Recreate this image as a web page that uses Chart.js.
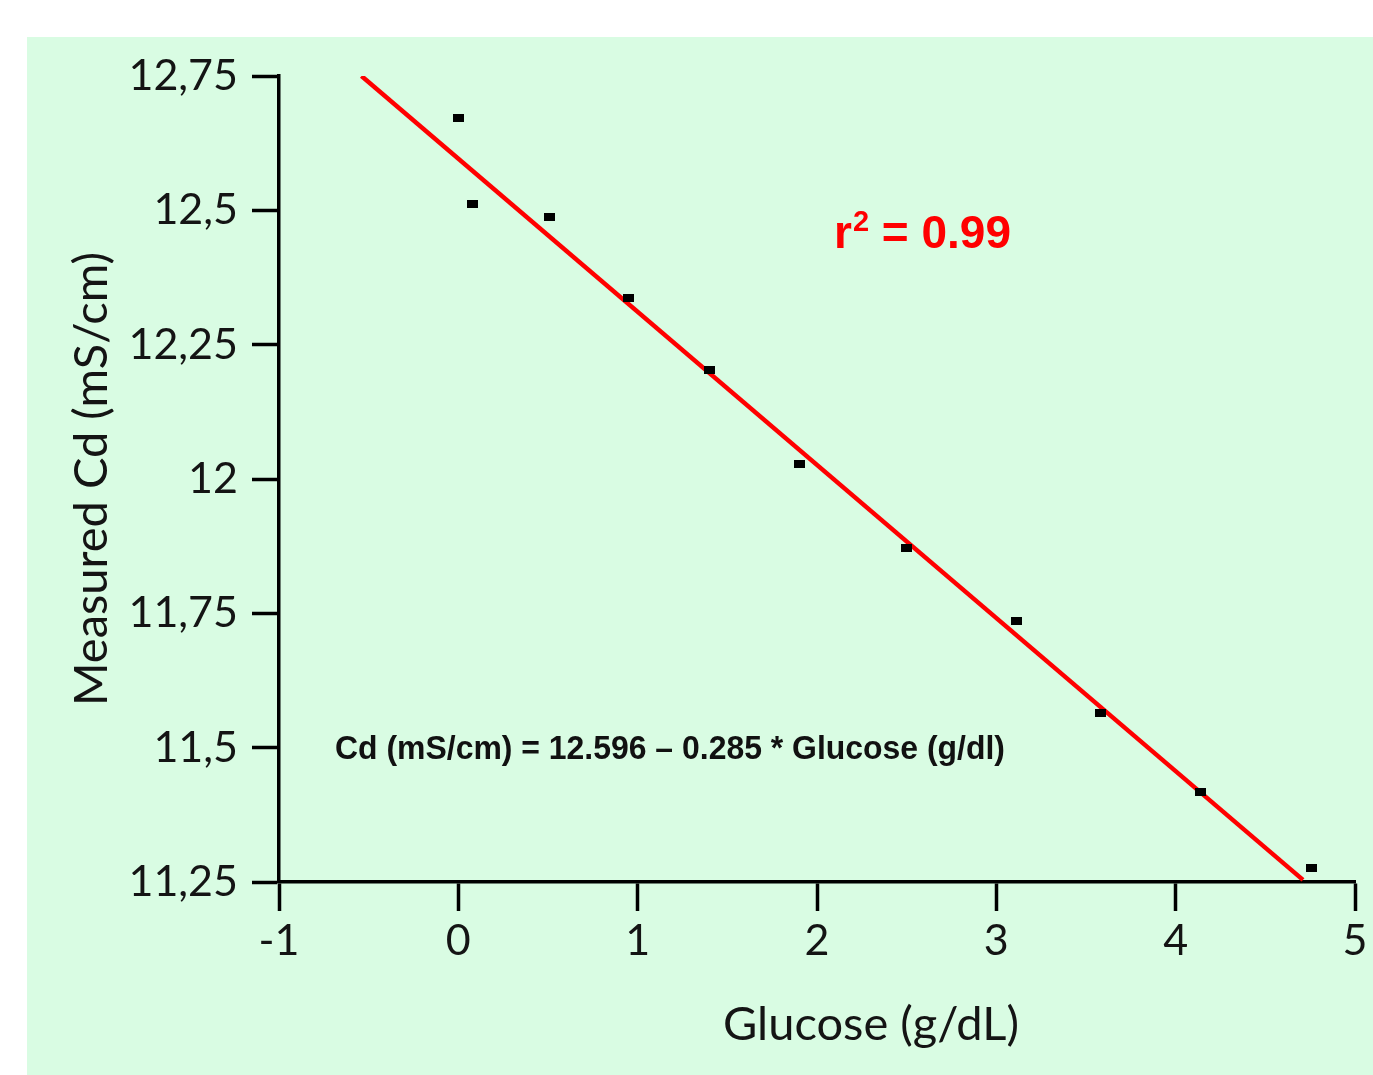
<!DOCTYPE html>
<html>
<head>
<meta charset="utf-8">
<script src="https://cdn.jsdelivr.net/npm/chart.js@4.4.1/dist/chart.umd.min.js"></script>
<style>
  html, body { margin: 0; padding: 0; background: #ffffff; }
  #wrap { position: absolute; left: 0; top: 0; width: 1373px; height: 1075px; }
</style>
</head>
<body>
<div id="wrap"><canvas id="chart" width="1373" height="1075"></canvas></div>
<script>
// ─────────────────────────────────────────────
// DATA
// ─────────────────────────────────────────────
const glucose  = [0.00, 0.08, 0.51, 0.95, 1.40, 1.90, 2.50, 3.11, 3.58, 4.14, 4.76];
const measured = [12.672, 12.512, 12.488, 12.337, 12.203, 12.028, 11.872, 11.736, 11.564, 11.417, 11.276];

// regression line end points
const fitX = [-0.54, 4.71];
const fitY = [12.75, 11.254];

const xTicks = [-1, 0, 1, 2, 3, 4, 5];
const yTicks = [11.25, 11.5, 11.75, 12, 12.25, 12.5, 12.75];
const yTickLabels = ['11,25', '11,5', '11,75', '12', '12,25', '12,5', '12,75'];

const xTitle = 'Glucose (g/dL)';
const yTitle = 'Measured Cd (mS/cm)';
const r2Text = '0.99';
const eqText = 'Cd (mS/cm) = 12.596 \u2013 0.285 * Glucose (g/dl)';

// ─────────────────────────────────────────────
// STYLE
// ─────────────────────────────────────────────
const BG = '#d9fce3';
const AXIS_FONT = 'Lato, "Open Sans", sans-serif';
const INK = '#141414';

// small filled rectangle used as marker (slightly wider than tall)
const marker = document.createElement('canvas');
marker.width = 11;
marker.height = 8;
(() => {
  const m = marker.getContext('2d');
  m.fillStyle = '#000000';
  m.fillRect(0, 0, 11, 8);
})();

// background panel + text annotations
const decor = {
  id: 'decor',
  beforeDraw(chart) {
    const c = chart.ctx;
    c.save();
    c.fillStyle = BG;
    c.fillRect(27, 37, chart.width - 27, chart.height - 37);
    c.restore();
  },
  afterDraw(chart) {
    const c = chart.ctx;
    c.save();
    // r² label
    c.fillStyle = '#ff0000';
    c.textBaseline = 'alphabetic';
    c.font = 'bold 46px "Liberation Sans", Arial, sans-serif';
    let x = 834, y = 248;
    c.fillText('r', x, y);
    x += c.measureText('r').width + 1;
    c.font = 'bold 29px "Liberation Sans", Arial, sans-serif';
    c.fillText('2', x, y - 17);
    x += c.measureText('2').width;
    c.font = 'bold 46px "Liberation Sans", Arial, sans-serif';
    c.fillText(' = ' + r2Text, x, y);

    // equation (condensed bold)
    c.fillStyle = '#111111';
    c.font = 'bold 34px "Liberation Sans", Arial, sans-serif';
    const w = c.measureText(eqText).width;
    c.translate(335, 759);
    c.scale(670 / w, 1);
    c.fillText(eqText, 0, 0);
    c.restore();

    // x title
    c.save();
    c.fillStyle = INK;
    c.font = '47px ' + AXIS_FONT;
    c.textAlign = 'center';
    c.fillText(xTitle, 871, 1040);
    c.restore();
  }
};

const ctx = document.getElementById('chart');
new Chart(ctx, {
  type: 'scatter',
  data: {
    datasets: [
      {
        label: 'fit',
        type: 'line',
        data: fitX.map((v, i) => ({ x: v, y: fitY[i] })),
        borderColor: '#ff0000',
        borderWidth: 4.5,
        pointRadius: 0,
        fill: false,
        order: 2,
      },
      {
        label: 'measured',
        data: glucose.map((v, i) => ({ x: v, y: measured[i] })),
        pointStyle: marker,
        pointRadius: 6,
        backgroundColor: '#000000',
        borderColor: '#000000',
        borderWidth: 0,
        order: 1,
      }
    ]
  },
  options: {
    responsive: false,
    animation: false,
    layout: { padding: { top: 76, right: 18, left: 0, bottom: 0 } },
    plugins: {
      legend: { display: false },
      tooltip: { enabled: false },
    },
    scales: {
      x: {
        type: 'linear',
        min: -1, max: 5,
        afterBuildTicks: (s) => { s.ticks = xTicks.map(v => ({ value: v })); },
        afterFit: (s) => { s.height = 1075 - 882; },
        border: { display: true, color: '#000000', width: 3.5 },
        grid: { drawOnChartArea: false, drawTicks: true, tickLength: 29, tickWidth: 3.5, tickColor: '#000000' },
        ticks: { color: INK, font: { family: AXIS_FONT, size: 43 }, padding: 4, maxRotation: 0 },
      },
      y: {
        min: 11.25, max: 12.75,
        afterBuildTicks: (s) => { s.ticks = yTicks.map(v => ({ value: v })); },
        afterFit: (s) => { s.width = 279; },
        border: { display: true, color: '#000000', width: 3.5 },
        grid: { drawOnChartArea: false, drawTicks: true, tickLength: 27, tickWidth: 3.5, tickColor: '#000000' },
        ticks: {
          color: INK,
          font: { family: AXIS_FONT, size: 43 },
          padding: 14,
          callback: (v) => { const i = yTicks.indexOf(v); return i >= 0 ? yTickLabels[i] : ''; },
        },
        title: {
          display: true,
          text: yTitle,
          color: INK,
          font: { family: AXIS_FONT, size: 47 },
          padding: { top: 64, bottom: 0 },
        },
      }
    }
  },
  plugins: [decor]
});
</script>
</body>
</html>
